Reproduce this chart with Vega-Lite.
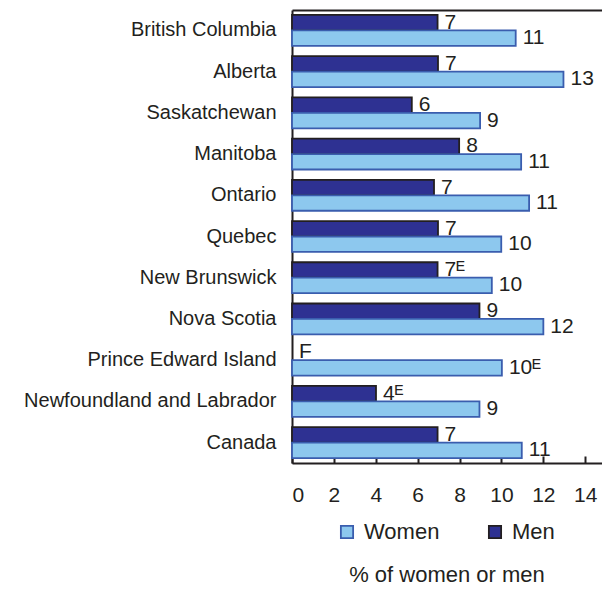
{
  "$schema": "https://vega.github.io/schema/vega-lite/v6.json",
  "autosize": {"type": "none"},
  "width": 310,
  "height": 453,
  "padding": {"left": 292, "top": 10, "right": 0, "bottom": 126},
  "background": "white",
  "config": {
    "font": "Liberation Sans",
    "view": {"stroke": null},
    "axis": {"labelFont": "Liberation Sans", "labelColor": "#231F20", "grid": false}
  },
  "title": {
    "text": "% of women or men",
    "orient": "bottom",
    "anchor": "middle",
    "fontSize": 22,
    "fontWeight": "normal",
    "color": "#231F20",
    "font": "Liberation Sans",
    "offset": 22
  },
  "data": {
    "values": [
      {"province": "British Columbia", "sex": "Men", "value": 6.95, "label": "7"},
      {"province": "British Columbia", "sex": "Women", "value": 10.68, "label": "11"},
      {"province": "Alberta", "sex": "Men", "value": 6.97, "label": "7"},
      {"province": "Alberta", "sex": "Women", "value": 12.96, "label": "13"},
      {"province": "Saskatchewan", "sex": "Men", "value": 5.72, "label": "6"},
      {"province": "Saskatchewan", "sex": "Women", "value": 8.98, "label": "9"},
      {"province": "Manitoba", "sex": "Men", "value": 7.98, "label": "8"},
      {"province": "Manitoba", "sex": "Women", "value": 10.94, "label": "11"},
      {"province": "Ontario", "sex": "Men", "value": 6.78, "label": "7"},
      {"province": "Ontario", "sex": "Women", "value": 11.32, "label": "11"},
      {"province": "Quebec", "sex": "Men", "value": 6.97, "label": "7"},
      {"province": "Quebec", "sex": "Women", "value": 9.99, "label": "10"},
      {"province": "New Brunswick", "sex": "Men", "value": 6.95, "label": "7ᴱ"},
      {"province": "New Brunswick", "sex": "Women", "value": 9.54, "label": "10"},
      {"province": "Nova Scotia", "sex": "Men", "value": 8.95, "label": "9"},
      {"province": "Nova Scotia", "sex": "Women", "value": 12.0, "label": "12"},
      {"province": "Prince Edward Island", "sex": "Men", "value": 0, "label": "F"},
      {"province": "Prince Edward Island", "sex": "Women", "value": 10.02, "label": "10ᴱ"},
      {"province": "Newfoundland and Labrador", "sex": "Men", "value": 4.01, "label": "4ᴱ"},
      {"province": "Newfoundland and Labrador", "sex": "Women", "value": 8.95, "label": "9"},
      {"province": "Canada", "sex": "Men", "value": 6.95, "label": "7"},
      {"province": "Canada", "sex": "Women", "value": 10.97, "label": "11"}
    ]
  },
  "encoding": {
    "y": {
      "field": "province",
      "type": "nominal",
      "sort": ["British Columbia", "Alberta", "Saskatchewan", "Manitoba", "Ontario", "Quebec", "New Brunswick", "Nova Scotia", "Prince Edward Island", "Newfoundland and Labrador", "Canada"],
      "scale": {"paddingInner": 0.25, "paddingOuter": 0.12},
      "axis": {
        "title": null,
        "ticks": false,
        "labelPadding": 16,
        "labelFontSize": 20,
        "labelLimit": 400,
        "domainColor": "#231F20",
        "domainWidth": 2
      }
    },
    "yOffset": {"field": "sex", "type": "nominal", "sort": ["Men", "Women"]}
  },
  "layer": [
    {
      "transform": [{"filter": "datum.value > 0"}],
      "mark": {"type": "bar", "strokeWidth": 1.8},
      "encoding": {
        "x": {
          "field": "value",
          "type": "quantitative",
          "scale": {"domain": [0, 14.8], "nice": false},
          "axis": {
            "title": null,
            "values": [0, 2, 4, 6, 8, 10, 12, 14],
            "tickSize": -7,
            "tickColor": "#231F20",
            "tickWidth": 2,
            "labelPadding": 28,
            "labelFontSize": 21,
            "domainColor": "#231F20",
            "domainWidth": 2
          }
        },
        "color": {
          "field": "sex",
          "type": "nominal",
          "scale": {"domain": ["Women", "Men"], "range": ["#8DC8EE", "#2E3192"]},
          "legend": {
            "title": null,
            "orient": "none",
            "legendX": 44,
            "legendY": 511,
            "direction": "horizontal",
            "symbolType": "square",
            "symbolSize": 150,
            "symbolStrokeWidth": 1.8,
            "labelFontSize": 22,
            "labelColor": "#231F20",
            "labelFont": "Liberation Sans",
            "columnPadding": 44,
            "labelOffset": 6
          }
        },
        "stroke": {
          "field": "sex",
          "type": "nominal",
          "scale": {"domain": ["Women", "Men"], "range": ["#3A5DAE", "#231F20"]},
          "legend": {
            "title": null,
            "orient": "none",
            "legendX": 44,
            "legendY": 511,
            "direction": "horizontal",
            "symbolType": "square",
            "symbolSize": 150,
            "symbolStrokeWidth": 1.8,
            "labelFontSize": 22,
            "labelColor": "#231F20",
            "labelFont": "Liberation Sans",
            "columnPadding": 44,
            "labelOffset": 6
          }
        }
      }
    },
    {
      "mark": {"type": "text", "align": "left", "baseline": "middle", "dx": 7, "fontSize": 21, "color": "#231F20", "font": "Liberation Sans"},
      "encoding": {
        "x": {
          "field": "value",
          "type": "quantitative",
          "scale": {"domain": [0, 14.8], "nice": false},
          "axis": {
            "orient": "top",
            "title": null,
            "labels": false,
            "ticks": false,
            "domainColor": "#231F20",
            "domainWidth": 2
          }
        },
        "text": {"field": "label"}
      }
    }
  ],
  "resolve": {"axis": {"x": "independent"}}
}
